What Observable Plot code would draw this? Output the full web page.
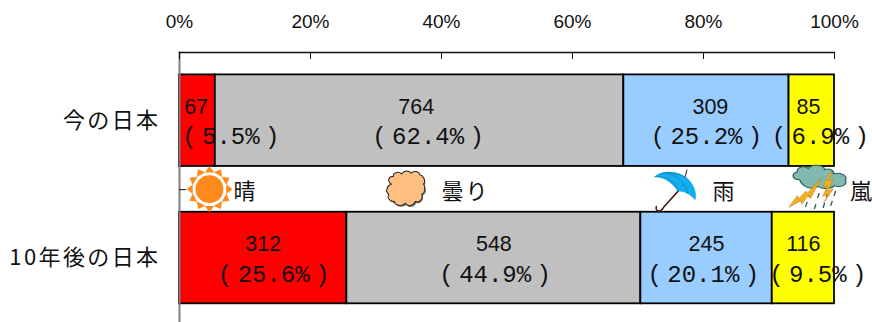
<!DOCTYPE html>
<html lang="ja">
<head>
<meta charset="utf-8">
<script src="https://cdn.jsdelivr.net/npm/d3@7"></script>
<script src="https://cdn.jsdelivr.net/npm/@observablehq/plot@0.6"></script>
<style>
  html, body { margin: 0; padding: 0; background: #fff; overflow: hidden; }
  svg { display: block; }
  g[aria-label="y-axis tick label"] text { letter-spacing: 2.4px; }
  .pct text { word-spacing: -9px; white-space: pre; }
  .key text:nth-child(2) { letter-spacing: 2px; }
</style>
</head>
<body>
<div id="chart"></div>
<script>
// Weather metaphor for Japan today and ten years on: respondents per answer.
const periods = ["今の日本", "10年後の日本"];
const weather = ["晴", "曇り", "雨", "嵐"];
const colors = ["#ff0000", "#c0c0c0", "#99ccff", "#ffff00"];
const todayCounts = [67, 764, 309, 85];
const laterCounts = [312, 548, 245, 116];
const todayPercents = ["5.5", "62.4", "25.2", "6.9"];
const laterPercents = ["25.6", "44.9", "20.1", "9.5"];
const axisTicks = [0, 0.2, 0.4, 0.6, 0.8, 1];

// Label drift from the segment centre, in shares of the axis.
const countShift = [[-0.002, -0.005, 0.006, -0.005], [0, 0, 0, 0]];
const percentShift = [[0.051, 0.013, 0.0, 0.013], [0.016, 0.002, -0.005, 0.022]];

// Key sits in the gap between the two bars.
const keyAt = [0.0825, 0.4, 0.8137, 1.0237];
const rowGap = 69;

const rows = periods.flatMap((period, r) => {
  const counts = r === 0 ? todayCounts : laterCounts;
  const percents = r === 0 ? todayPercents : laterPercents;
  const total = d3.sum(counts);
  let run = 0;
  return counts.map((count, i) => {
    const mid = (run + count / 2) / total;
    run += count;
    return {
      period, count, series: weather[i],
      countX: mid + countShift[r][i],
      percentX: mid + percentShift[r][i],
      percent: `( ${percents[i]}% )`
    };
  });
});

// Weather pictograms as small inline drawings.
const toSrc = (body, vb) =>
  "data:image/svg+xml," + encodeURIComponent(
    `<svg xmlns="http://www.w3.org/2000/svg" viewBox="${vb}">${body}</svg>`);

const sunRays = d3.range(12).map(i =>
  `<path d="M-5 -17.5 L0 -24 L5 -17.5 Z" fill="#ff8a1c" transform="rotate(${i * 30})"/>`).join("");
const sunIcon = toSrc(`<g transform="translate(24 24)">${sunRays}<circle r="14.5" fill="#ff8a1c"/></g>`, "0 0 48 48");

const puff = "M9 17 C4 14 6 8 11 9 C11 4 17 3 20 6 C23 2 28 2 30 5 C34 2 39 3 40 7 C45 8 46 14 44 17 C47 22 45 27 42 28 C44 33 39 38 35 36 C33 41 27 42 24 38 C20 42 13 40 12 36 C7 36 4 32 6 28 C2 25 4 19 9 17 Z";
const cloudIcon = toSrc(`<path d="${puff}" transform="translate(1 1.5)" fill="#777"/><path d="${puff}" fill="#ffbf80" stroke="#222" stroke-width="1.1"/>`, "0 0 50 44");

const umbrellaIcon = toSrc(`
  <path d="M27 19 L10 38 C7 43 2 42 3 37" fill="none" stroke="#4a1f1a" stroke-width="1.5" stroke-linecap="round"/>
  <path d="M30 13 L33 1" stroke="#4a1f1a" stroke-width="1"/>
  <path d="M1 8 C9 0 28 2 36 12 C41 18 43 25 41 31 C37 25 30 22 24 22 C18 13 9 8 1 8 Z" fill="#14aef0"/>
  <path d="M1 8 C12 7 22 12 24 22 M13 4 C23 6 31 13 34 25 M32 9 C25 4 14 3 7 5" fill="none" stroke="#0b7fb8" stroke-width="0.7"/>`, "0 0 42 43");

const stormCloud = "M10 20 C3 20 2 12 8 11 C7 5 15 3 18 7 C21 1 32 2 33 8 C38 6 42 10 41 13 C48 11 54 15 52 21 C54 26 48 30 42 27 C38 32 30 31 27 28 C22 32 13 30 10 20 Z";
const bolt = (x, y, s) =>
  `<path d="M${x} ${y} l${-6*s} ${13*s} l${5*s} ${-2*s} l${-5*s} ${10*s} l${5*s} ${-2*s} l${-4*s} ${8*s} l${9*s} ${-13*s} l${-5*s} ${2*s} l${5*s} ${-11*s} l${-5*s} ${2*s} l${4*s} ${-8*s} Z" fill="#f2b01e" stroke="#b9741a" stroke-width="0.4"/>`;
const rain = [[20,26],[28,27],[36,26],[43,25],[17,35],[25,37],[33,36],[40,34]]
  .map(([x, y]) => `<path d="M${x} ${y} l-1.5 4.5" stroke="#24584f" stroke-width="1.2"/>`).join("");
const stormIcon = toSrc(`
  <path d="${stormCloud}" transform="translate(0 -1) scale(1 0.78)" fill="#7fb9b2" stroke="#2f5f58" stroke-width="1.2"/>
  ${rain}
  <path d="M0 40 L8 29 L9 32 L16 25 L17 27 L30 13 L20 32 L18 29 L12 37 L11 34 Z" fill="#f2b01e" stroke="#b9741a" stroke-width="0.4"/>
  ${bolt(37, 9, 1)}`, "0 0 54 42");

const icons = [
  {at: 0.0458, src: sunIcon, w: 46, h: 46, dy: rowGap - 0.5},
  {at: 0.346, src: cloudIcon, w: 46, h: 42, dy: rowGap - 1},
  {at: 0.756, src: umbrellaIcon, w: 43, h: 44, dy: rowGap + 1},
  {at: 0.975, src: stormIcon, w: 59, h: 46, dy: rowGap - 3}
];

const cjk = "'Noto Sans CJK JP', sans-serif";

const chart = Plot.plot({
  width: 872,
  height: 322,
  marginLeft: 179,
  marginRight: 38,
  marginTop: 52,
  marginBottom: 0,
  style: {background: "#fff", color: "#111"},
  x: {domain: [0, 1], range: [179, 834]},
  y: {domain: periods, range: [51.5, 326.2], paddingInner: 1 / 3, paddingOuter: 1 / 6, round: false},
  color: {domain: weather, range: colors},
  marks: [
    Plot.barX(rows, Plot.stackX({
      x: "count", y: "period", fill: "series",
      offset: "normalize", stroke: "#000", strokeWidth: 1.8
    })),
    Plot.frame({anchor: "left", stroke: "#808080", strokeWidth: 2}),
    Plot.frame({anchor: "top", stroke: "#111", strokeWidth: 1.3}),
    Plot.tickX(axisTicks, {x: d => d, insetBottom: 263, stroke: "#111", strokeWidth: 1}),
    Plot.ruleY(periods.slice(0, 1), {y: d => d, x1: 0, x2: 0.0107, dy: rowGap, stroke: "#111"}),
    Plot.axisX({
      anchor: "top", ticks: axisTicks, tickFormat: d3.format(".0%"), tickSize: 0,
      tickPadding: 25, fontSize: 19, fontFamily: "'Liberation Sans'", label: null
    }),
    Plot.axisY({
      anchor: "left", tickSize: 0, tickPadding: 19, fontSize: 22,
      fontFamily: cjk, label: null
    }),
    Plot.text(rows, {
      x: "countX", y: "period", text: d => String(d.count), dy: -14,
      fontSize: 21.5, fontFamily: "'Liberation Sans'", fill: "#111"
    }),
    Plot.text(rows, {
      x: "percentX", y: "period", text: "percent", dy: 16, className: "pct",
      fontSize: 24, fontFamily: "'Liberation Mono'", fill: "#111"
    }),
    ...icons.map(d => Plot.image([d], {
      x: "at", y: () => periods[0], src: "src",
      width: d.w, height: d.h, dy: d.dy
    })),
    Plot.text(weather, {
      x: (d, i) => keyAt[i], y: () => periods[0], text: d => d, dy: rowGap + 2, className: "key",
      textAnchor: "start", fontSize: 22, fontFamily: cjk, fill: "#111"
    })
  ]
});

document.getElementById("chart").append(chart);
</script>
</body>
</html>
